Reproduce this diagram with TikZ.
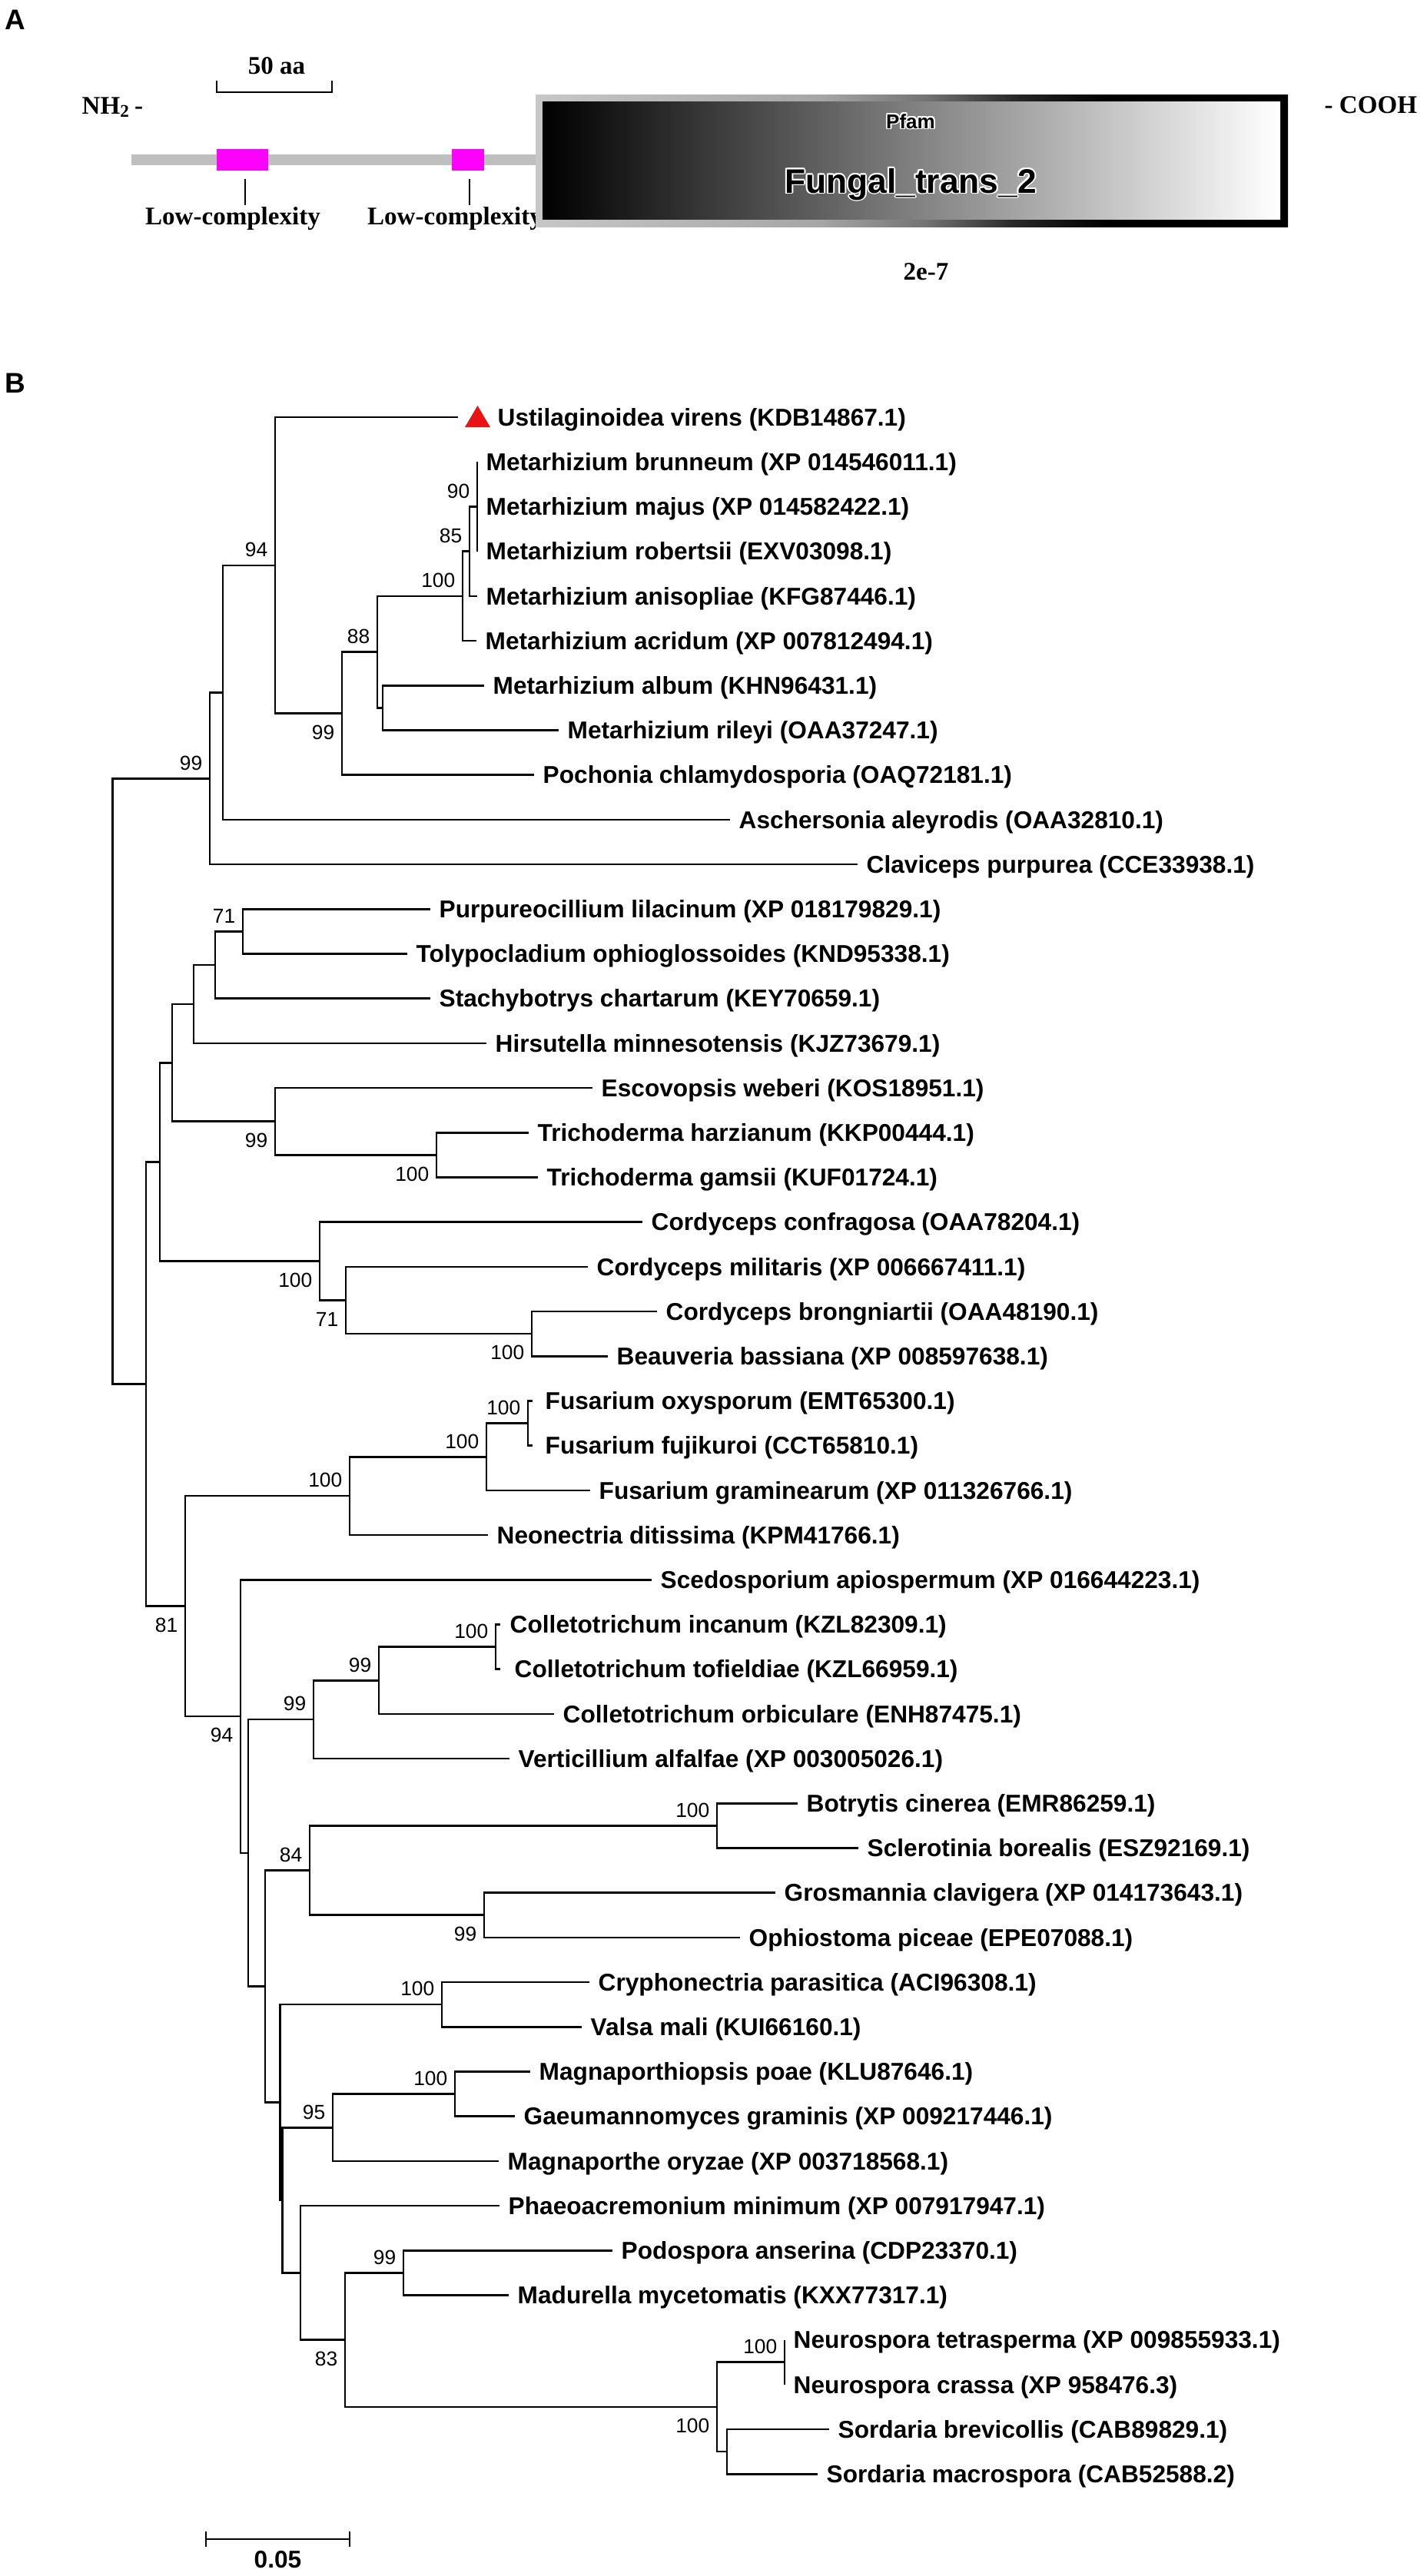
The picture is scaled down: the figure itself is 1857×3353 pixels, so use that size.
\documentclass[tikz,border=0pt]{standalone}
\usepackage{fontspec}
\setmainfont{Liberation Sans}
\newfontfamily\timesf{Liberation Serif}
\newcommand{\leaffont}{\fontsize{9}{10}\selectfont\bfseries}
\newcommand{\bsfont}{\fontsize{7.5}{8}\selectfont}
\newcommand{\tmfont}{\timesf\fontsize{9.4}{11}\selectfont\bfseries}
\newcommand{\panelfont}{\fontsize{10.5}{12}\selectfont\bfseries}
\definecolor{barcol}{gray}{0.75}
\definecolor{trired}{RGB}{232,20,20}
\definecolor{lcmag}{RGB}{255,0,255}
\pgfdeclarehorizontalshading{frameshade}{100bp}{color(0bp)=(black!22); color(25bp)=(black!22); color(44bp)=(black!35); color(51bp)=(black!55); color(57bp)=(black!85); color(63bp)=(black); color(100bp)=(black)}
\begin{document}
\begin{tikzpicture}[x=0.01cm, y=-0.01cm,
  branch/.style={line width=0.75pt},
  taxon/.style={anchor=west, inner xsep=0.11cm, inner ysep=0pt, text height=6.45pt, text depth=0pt, font=\leaffont},
  bsa/.style={anchor=south east, inner sep=0pt, text height=5.4pt, text depth=0pt, font=\bsfont, xshift=-0.09cm, yshift=0.105cm},
  bsb/.style={anchor=north east, inner sep=0pt, text height=5.4pt, text depth=0pt, font=\bsfont, xshift=-0.09cm, yshift=-0.14cm},
  tmtext/.style={inner sep=0pt, font=\tmfont},
  halo/.style={inner sep=0pt, anchor=base, text=white}
]
\useasboundingbox (0,0) rectangle (1857,3353);
\fill[white] (0,0) rectangle (1857,3353);

% ================= Panel A =================
\node[anchor=base west, inner sep=0pt, font=\panelfont] (pA) at (6,38) {A};
\node[tmtext, anchor=base] (fifty) at (360,96) {50 aa};
\draw[line width=0.02cm] (282,105) -- (282,120) -- (432,120) -- (432,105);
\node[tmtext, anchor=base west] (nterm) at (106,148) {NH\textsubscript{2}\,-};
\node[tmtext, anchor=base west] (cterm) at (1723,147) {- COOH};
\fill[barcol] (171,201) rectangle (697,215);
\fill[lcmag] (282,194) rectangle (349,222);
\fill[lcmag] (588,194) rectangle (630,222);
\draw[line width=0.02cm] (319,233) -- (319,267);
\draw[line width=0.02cm] (611,233) -- (611,267);
\node[tmtext, anchor=base] (lc1) at (303,292) {Low-complexity};
\node[tmtext, anchor=base] (lc2) at (592,292) {Low-complexity};
% domain box
\shade[shading=frameshade] (697,123) rectangle (1676,295);
\shade[left color=black, right color=white] (706,132) rectangle (1666,285);
\foreach \dx/\dy in {-0.55/0,0.55/0,0/-0.55,0/0.55,-0.4/-0.4,0.4/0.4,-0.4/0.4,0.4/-0.4}{
  \node[halo, font=\fontsize{12.6}{14}\selectfont\bfseries, xshift=\dx pt, yshift=\dy pt] at (1185,251) {Fungal\_trans\_2};
  \node[halo, font=\fontsize{7.4}{9}\selectfont\bfseries, xshift=\dx pt, yshift=\dy pt] at (1185,167) {Pfam};
}
\node[inner sep=0pt, anchor=base, font=\fontsize{12.6}{14}\selectfont\bfseries] (fung) at (1185,251) {Fungal\_trans\_2};
\node[inner sep=0pt, anchor=base, font=\fontsize{7.4}{9}\selectfont\bfseries] (pfam) at (1185,167) {Pfam};
\node[tmtext, anchor=base] (evalue) at (1205,364) {2e-7};

% ================= Panel B =================
\node[anchor=base west, inner sep=0pt, font=\panelfont] (pB) at (6,511) {B};

% internal nodes
\coordinate (R) at (146.5,1407.4);
\coordinate (B99) at (273,1013.2);
\coordinate (Ntop) at (290,901.3);
\coordinate (A94) at (358,735.8);
\coordinate (A99) at (445,928.6);
\coordinate (A88) at (491,848.5);
\coordinate (AR) at (498,921.3);
\coordinate (A100) at (602,775.8);
\coordinate (A85) at (611,717.6);
\coordinate (A90) at (621,659.4);
\coordinate (C6) at (190,1801.5);
\coordinate (C5) at (208,1512.4);
\coordinate (C4) at (224,1383.3);
\coordinate (C3) at (252,1306.9);
\coordinate (C2) at (280,1256.0);
\coordinate (C71) at (316,1212.3);
\coordinate (E99) at (358,1459.7);
\coordinate (T100) at (568,1503.3);
\coordinate (CC100) at (416,1641.5);
\coordinate (M71) at (450,1692.5);
\coordinate (B100) at (692,1736.1);
\coordinate (N81) at (241,2090.6);
\coordinate (F100a) at (455,1947.1);
\coordinate (F100b) at (633,1896.2);
\coordinate (F100c) at (687,1852.5);
\coordinate (N94) at (313,2234.0);
\coordinate (N323) at (323,2411.8);
\coordinate (V99) at (408,2238.1);
\coordinate (Co99) at (493,2187.2);
\coordinate (Co100) at (645,2143.5);
\coordinate (P) at (345,2585.5);
\coordinate (N84) at (403,2434.5);
\coordinate (BS100) at (933,2376.3);
\coordinate (GO99) at (630,2492.7);
\coordinate (Q) at (364.5,2736.5);
\coordinate (Q2) at (367.5,2863.8);
\coordinate (CV100) at (575,2609.1);
\coordinate (M95) at (433,2769.2);
\coordinate (MG100) at (592,2725.5);
\coordinate (Ph) at (391,2958.3);
\coordinate (N83) at (449,3045.6);
\coordinate (PM99) at (525,2958.3);
\coordinate (S100) at (933,3132.9);
\coordinate (Neu100) at (1021,3074.7);
\coordinate (Sor) at (946,3191.1);

% leaves
\node[taxon, inner xsep=0.51cm] (l1) at (596,543.0) {Ustilaginoidea virens (KDB14867.1)};
\node[taxon] (l2) at (621,601.2) {Metarhizium brunneum (XP 014546011.1)};
\node[taxon] (l3) at (621,659.4) {Metarhizium majus (XP 014582422.1)};
\node[taxon] (l4) at (621,717.6) {Metarhizium robertsii (EXV03098.1)};
\node[taxon] (l5) at (621,775.8) {Metarhizium anisopliae (KFG87446.1)};
\node[taxon] (l6) at (620,834.0) {Metarhizium acridum (XP 007812494.1)};
\node[taxon] (l7) at (630,892.2) {Metarhizium album (KHN96431.1)};
\node[taxon] (l8) at (727,950.4) {Metarhizium rileyi (OAA37247.1)};
\node[taxon] (l9) at (695,1008.6) {Pochonia chlamydosporia (OAQ72181.1)};
\node[taxon] (l10) at (950,1066.8) {Aschersonia aleyrodis (OAA32810.1)};
\node[taxon] (l11) at (1116,1125.0) {Claviceps purpurea (CCE33938.1)};
\node[taxon] (l12) at (560,1183.2) {Purpureocillium lilacinum (XP 018179829.1)};
\node[taxon] (l13) at (530,1241.4) {Tolypocladium ophioglossoides (KND95338.1)};
\node[taxon] (l14) at (560,1299.6) {Stachybotrys chartarum (KEY70659.1)};
\node[taxon] (l15) at (633,1357.8) {Hirsutella minnesotensis (KJZ73679.1)};
\node[taxon] (l16) at (771,1416.0) {Escovopsis weberi (KOS18951.1)};
\node[taxon] (l17) at (688,1474.2) {Trichoderma harzianum (KKP00444.1)};
\node[taxon] (l18) at (700,1532.4) {Trichoderma gamsii (KUF01724.1)};
\node[taxon] (l19) at (836,1590.6) {Cordyceps confragosa (OAA78204.1)};
\node[taxon] (l20) at (765,1648.8) {Cordyceps militaris (XP 006667411.1)};
\node[taxon] (l21) at (855,1707.0) {Cordyceps brongniartii (OAA48190.1)};
\node[taxon] (l22) at (791,1765.2) {Beauveria bassiana (XP 008597638.1)};
\node[taxon, inner xsep=0.16cm] (l23) at (693,1823.4) {Fusarium oxysporum (EMT65300.1)};
\node[taxon, inner xsep=0.16cm] (l24) at (693,1881.6) {Fusarium fujikuroi (CCT65810.1)};
\node[taxon] (l25) at (768,1939.8) {Fusarium graminearum (XP 011326766.1)};
\node[taxon] (l26) at (635,1998.0) {Neonectria ditissima (KPM41766.1)};
\node[taxon] (l27) at (848,2056.2) {Scedosporium apiospermum (XP 016644223.1)};
\node[taxon, inner xsep=0.12cm] (l28) at (651,2114.4) {Colletotrichum incanum (KZL82309.1)};
\node[taxon, inner xsep=0.18cm] (l29) at (651,2172.6) {Colletotrichum tofieldiae (KZL66959.1)};
\node[taxon] (l30) at (721,2230.8) {Colletotrichum orbiculare (ENH87475.1)};
\node[taxon] (l31) at (663,2289.0) {Verticillium alfalfae (XP 003005026.1)};
\node[taxon] (l32) at (1038,2347.2) {Botrytis cinerea (EMR86259.1)};
\node[taxon] (l33) at (1117,2405.4) {Sclerotinia borealis (ESZ92169.1)};
\node[taxon] (l34) at (1009,2463.6) {Grosmannia clavigera (XP 014173643.1)};
\node[taxon] (l35) at (963,2521.8) {Ophiostoma piceae (EPE07088.1)};
\node[taxon] (l36) at (767,2580.0) {Cryphonectria parasitica (ACI96308.1)};
\node[taxon] (l37) at (757,2638.2) {Valsa mali (KUI66160.1)};
\node[taxon] (l38) at (690,2696.4) {Magnaporthiopsis poae (KLU87646.1)};
\node[taxon] (l39) at (670,2754.6) {Gaeumannomyces graminis (XP 009217446.1)};
\node[taxon] (l40) at (649,2812.8) {Magnaporthe oryzae (XP 003718568.1)};
\node[taxon] (l41) at (650,2871.0) {Phaeoacremonium minimum (XP 007917947.1)};
\node[taxon] (l42) at (797,2929.2) {Podospora anserina (CDP23370.1)};
\node[taxon] (l43) at (662,2987.4) {Madurella mycetomatis (KXX77317.1)};
\node[taxon] (l44) at (1021,3045.6) {Neurospora tetrasperma (XP 009855933.1)};
\node[taxon] (l45) at (1021,3103.8) {Neurospora crassa (XP 958476.3)};
\node[taxon] (l46) at (1079,3162.0) {Sordaria brevicollis (CAB89829.1)};
\node[taxon] (l47) at (1064,3220.2) {Sordaria macrospora (CAB52588.2)};

% marker for the query sequence
\fill[trired] (605,556) -- (638,556) -- (621.5,528) -- cycle;

% branches
\draw[branch] (R) |- (B99);
\draw[branch] (R) |- (C6);
\draw[branch] (B99) |- (Ntop);
\draw[branch] (B99) |- (l11.west);
\draw[branch] (Ntop) |- (A94);
\draw[branch] (Ntop) |- (l10.west);
\draw[branch] (A94) |- (l1.west);
\draw[branch] (A94) |- (A99);
\draw[branch] (A99) |- (A88);
\draw[branch] (A99) |- (l9.west);
\draw[branch] (A88) |- (A100);
\draw[branch] (A88) |- (AR);
\draw[branch] (AR) |- (l7.west);
\draw[branch] (AR) |- (l8.west);
\draw[branch] (A100) |- (A85);
\draw[branch] (A100) |- (l6.west);
\draw[branch] (A85) |- (A90);
\draw[branch] (A85) |- (l5.west);
\draw[branch] (A90) |- (l2.west);
\draw[branch] (A90) |- (l3.west);
\draw[branch] (A90) |- (l4.west);
\draw[branch] (C6) |- (C5);
\draw[branch] (C6) |- (N81);
\draw[branch] (C5) |- (C4);
\draw[branch] (C5) |- (CC100);
\draw[branch] (C4) |- (C3);
\draw[branch] (C4) |- (E99);
\draw[branch] (C3) |- (C2);
\draw[branch] (C3) |- (l15.west);
\draw[branch] (C2) |- (C71);
\draw[branch] (C2) |- (l14.west);
\draw[branch] (C71) |- (l12.west);
\draw[branch] (C71) |- (l13.west);
\draw[branch] (E99) |- (l16.west);
\draw[branch] (E99) |- (T100);
\draw[branch] (T100) |- (l17.west);
\draw[branch] (T100) |- (l18.west);
\draw[branch] (CC100) |- (l19.west);
\draw[branch] (CC100) |- (M71);
\draw[branch] (M71) |- (l20.west);
\draw[branch] (M71) |- (B100);
\draw[branch] (B100) |- (l21.west);
\draw[branch] (B100) |- (l22.west);
\draw[branch] (N81) |- (F100a);
\draw[branch] (N81) |- (N94);
\draw[branch] (F100a) |- (F100b);
\draw[branch] (F100a) |- (l26.west);
\draw[branch] (F100b) |- (F100c);
\draw[branch] (F100b) |- (l25.west);
\draw[branch] (F100c) |- (l23.west);
\draw[branch] (F100c) |- (l24.west);
\draw[branch] (N94) |- (l27.west);
\draw[branch] (N94) |- (N323);
\draw[branch] (N323) |- (V99);
\draw[branch] (N323) |- (P);
\draw[branch] (V99) |- (Co99);
\draw[branch] (V99) |- (l31.west);
\draw[branch] (Co99) |- (Co100);
\draw[branch] (Co99) |- (l30.west);
\draw[branch] (Co100) |- (l28.west);
\draw[branch] (Co100) |- (l29.west);
\draw[branch] (P) |- (N84);
\draw[branch] (P) |- (Q);
\draw[branch] (N84) |- (BS100);
\draw[branch] (N84) |- (GO99);
\draw[branch] (BS100) |- (l32.west);
\draw[branch] (BS100) |- (l33.west);
\draw[branch] (GO99) |- (l34.west);
\draw[branch] (GO99) |- (l35.west);
\draw[branch] (Q) |- (CV100);
\draw[branch] (Q) |- (Q2);
\draw[branch] (CV100) |- (l36.west);
\draw[branch] (CV100) |- (l37.west);
\draw[branch] (Q2) |- (M95);
\draw[branch] (Q2) |- (Ph);
\draw[branch] (M95) |- (MG100);
\draw[branch] (M95) |- (l40.west);
\draw[branch] (MG100) |- (l38.west);
\draw[branch] (MG100) |- (l39.west);
\draw[branch] (Ph) |- (l41.west);
\draw[branch] (Ph) |- (N83);
\draw[branch] (N83) |- (PM99);
\draw[branch] (N83) |- (S100);
\draw[branch] (PM99) |- (l42.west);
\draw[branch] (PM99) |- (l43.west);
\draw[branch] (S100) |- (Neu100);
\draw[branch] (S100) |- (Sor);
\draw[branch] (Neu100) |- (l44.west);
\draw[branch] (Neu100) |- (l45.west);
\draw[branch] (Sor) |- (l46.west);
\draw[branch] (Sor) |- (l47.west);

% bootstrap values
\node[bsa] (bA94) at (A94) {94};
\node[bsb] (bA99) at (A99) {99};
\node[bsa] (bA88) at (A88) {88};
\node[bsa] (bA100) at (A100) {100};
\node[bsa] (bA85) at (A85) {85};
\node[bsa] (bA90) at (A90) {90};
\node[bsa] (bB99) at (B99) {99};
\node[bsa] (bC71) at (C71) {71};
\node[bsb] (bE99) at (E99) {99};
\node[bsb] (bT100) at (T100) {100};
\node[bsb] (bCC100) at (CC100) {100};
\node[bsb] (bM71) at (M71) {71};
\node[bsb] (bB100) at (B100) {100};
\node[bsa] (bF100c) at (F100c) {100};
\node[bsa] (bF100b) at (F100b) {100};
\node[bsa] (bF100a) at (F100a) {100};
\node[bsb] (bN81) at (N81) {81};
\node[bsb] (bN94) at (N94) {94};
\node[bsa] (bV99) at (V99) {99};
\node[bsa] (bCo99) at (Co99) {99};
\node[bsa] (bCo100) at (Co100) {100};
\node[bsa] (bBS100) at (BS100) {100};
\node[bsa] (bN84) at (N84) {84};
\node[bsb] (bGO99) at (GO99) {99};
\node[bsa] (bCV100) at (CV100) {100};
\node[bsa] (bMG100) at (MG100) {100};
\node[bsa] (bM95) at (M95) {95};
\node[bsa] (bPM99) at (PM99) {99};
\node[bsb] (bN83) at (N83) {83};
\node[bsa] (bNeu100) at (Neu100) {100};
\node[bsb] (bS100) at (S100) {100};

% scale bar
\coordinate (sbL) at (268,3305);
\coordinate (sbR) at (455,3305);
\draw[branch] (sbL) -- (sbR);
\draw[branch] ([yshift=0.1cm]sbL) -- ([yshift=-0.1cm]sbL);
\draw[branch] ([yshift=0.1cm]sbR) -- ([yshift=-0.1cm]sbR);
\node[anchor=base, inner sep=0pt, font=\leaffont] (sbtext) at (361.5,3342) {0.05};
\end{tikzpicture}
\end{document}
